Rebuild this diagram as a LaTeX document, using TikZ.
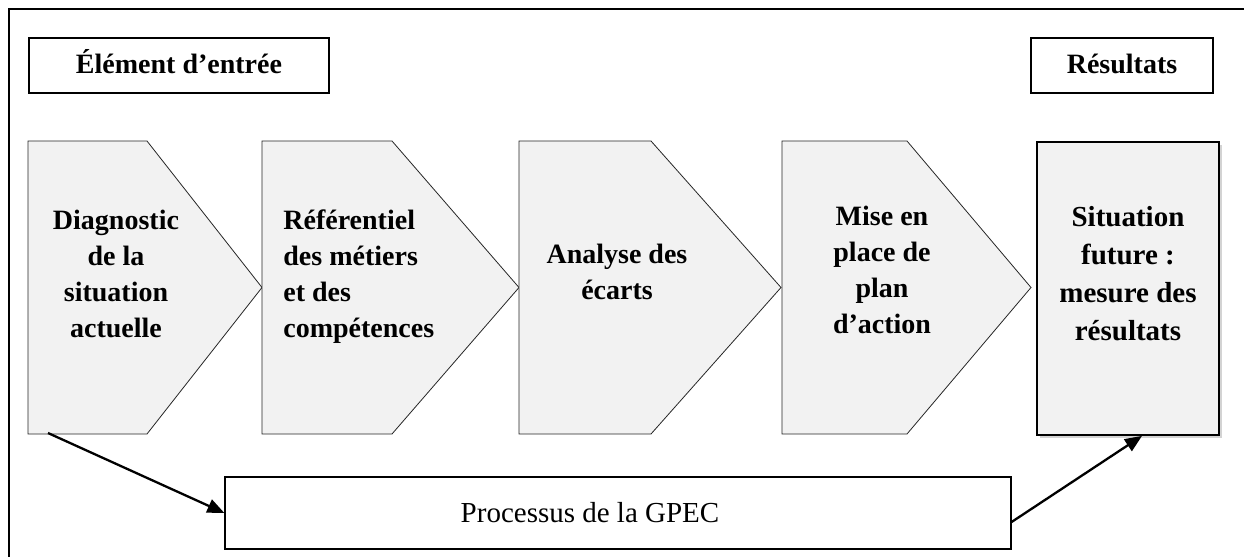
\documentclass[tikz,border=0pt]{standalone}
\usepackage{fontspec}
\setmainfont{Liberation Serif}
\usetikzlibrary{arrows.meta,shadows}

\definecolor{stepfill}{HTML}{F2F2F2}

\begin{document}
\begin{tikzpicture}[x=0.5pt,y=-0.5pt,
  labelbox/.style={draw=black,line width=0.6pt,fill=white},
  chevron/.style={draw=black!85,line width=0.4pt,fill=stepfill},
  steptext/.style={font=\fontsize{14}{18}\selectfont\bfseries,inner sep=0pt,anchor=base},
  arr/.style={line width=1.15pt,-{Triangle[length=8.5pt,width=7pt]}}]

\useasboundingbox (0,0) rectangle (1244,557);

% outer frame (only top and left edges fall inside the page)
\draw[line width=1pt] (9,580) -- (9,9) -- (1260,9);

% heading boxes
\draw[labelbox] (29,38) rectangle (329,93);
\node[steptext,align=center] (entree) at (179,73) {Élément d’entrée};
\draw[labelbox] (1031,38) rectangle (1213,93);
\node[steptext,align=center] (resultats) at (1122,73) {Résultats};

% process steps
\draw[chevron] (28,141) -- (147,141) -- (262,287.5) -- (147,434) -- (28,434) -- cycle;
\draw[chevron] (262,141) -- (392,141) -- (519,287.5) -- (392,434) -- (262,434) -- cycle;
\draw[chevron] (519,141) -- (651,141) -- (781,287.5) -- (651,434) -- (519,434) -- cycle;
\draw[chevron] (782,141) -- (907,141) -- (1031,287.5) -- (907,434) -- (782,434) -- cycle;

% multi-line labels: the base anchor sits on the last line
\node[steptext,align=center] (diag) at (116,337) {Diagnostic\\de la\\situation\\actuelle};
\node[steptext,align=left,anchor=base west] (refer) at (283,337) {Référentiel\\des métiers\\et des\\compétences};
\node[steptext,align=center] (ecarts) at (617,299) {Analyse des\\écarts};
\node[steptext,align=center] (plan) at (882,333) {Mise en\\place de\\plan\\d’action};

% final state
\node[draw=black,line width=0.9pt,fill=stepfill,minimum width=91pt,minimum height=146.5pt,
      drop shadow={shadow xshift=1.5pt,shadow yshift=-1.5pt,opacity=0.35}]
  (situation) at (1128,288.5) {};
\node[font=\fontsize{14.5}{19}\selectfont\bfseries,inner sep=0pt,anchor=base,align=center]
  (sittext) at (1128,340) {Situation\\future :\\mesure des\\résultats};

% GPEC process bar
\node[draw=black,line width=0.6pt,fill=white,minimum width=393pt,minimum height=36pt]
  (gpec) at (618,513) {};
\node[font=\fontsize{14.5}{18}\selectfont,inner sep=0pt] (gpectext) at (590,513) {Processus de la GPEC};

% links between the stages and the process bar
\coordinate (diagfoot) at (48,433);
\draw[arr] (diagfoot) -- (gpec.west);
\draw[arr] ([yshift=-4.5pt]gpec.east) -- ([xshift=7pt]situation.south);

\end{tikzpicture}
\end{document}
